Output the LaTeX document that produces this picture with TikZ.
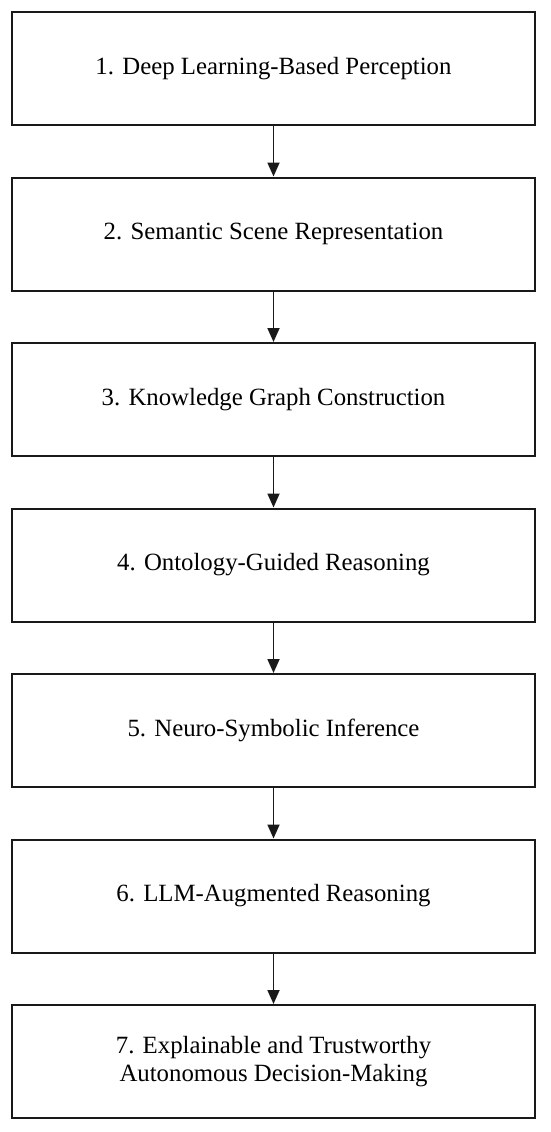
\documentclass[tikz,border=0pt]{standalone}
\usepackage{fontspec}
\setmainfont{Liberation Serif}
\usetikzlibrary{arrows.meta}
\begin{document}
\begin{tikzpicture}[x=1pt,y=-1pt,
  stepbox/.style={draw=black!90,line width=2pt,minimum width=523pt,minimum height=113pt,
    align=center,font=\fontsize{24.8pt}{28pt}\selectfont,inner sep=0pt},
  flow/.style={-{Triangle[length=14pt,width=12pt]},line width=1.8pt,black!90}]
\useasboundingbox (0,0) rectangle (550,1132);
\node[stepbox] (s1) at (273.5,68.5) {1. Deep Learning-Based Perception};
\node[stepbox] (s2) at (273.5,234) {2. Semantic Scene Representation};
\node[stepbox] (s3) at (273.5,399.5) {3. Knowledge Graph Construction};
\node[stepbox] (s4) at (273.5,565) {4. Ontology-Guided Reasoning};
\node[stepbox] (s5) at (273.5,730.5) {5. Neuro-Symbolic Inference};
\node[stepbox] (s6) at (273.5,896) {6. LLM-Augmented Reasoning};
\node[stepbox] (s7) at (273.5,1061.5) {7. Explainable and Trustworthy\\Autonomous Decision-Making};
\foreach \a/\b in {s1/s2,s2/s3,s3/s4,s4/s5,s5/s6,s6/s7}
  \draw[flow] (\a) -- (\b);
\end{tikzpicture}
\end{document}
